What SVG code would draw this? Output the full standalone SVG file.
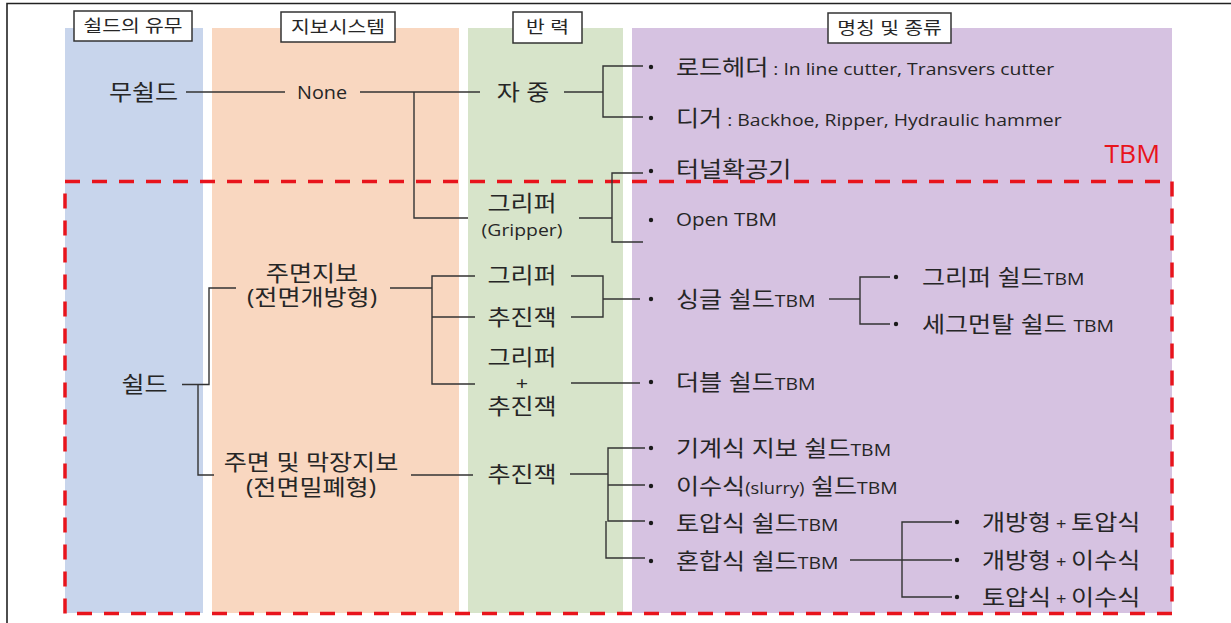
<svg xmlns="http://www.w3.org/2000/svg" width="1231" height="623" viewBox="0 0 1231 623">
<style>
text { font-family: "Open Sans", "Noto Sans CJK KR", sans-serif; fill: #262626; }
.h { font-size: 17px; text-anchor: middle; }
.k { font-size: 22px; }
.m { text-anchor: middle; }
.s17 { font-size: 17px; }
.s16 { font-size: 17px; }
.s15 { font-size: 15px; }
.box { fill: #ffffff; stroke: #333333; stroke-width: 1.5; }
.ln { fill: none; stroke: #333333; stroke-width: 1.4; }
.dot { fill: #1a1a1a; }
</style>
<rect x="0" y="0" width="1231" height="623" fill="#ffffff"/>
<path d="M7,623 V3.5 H1231" fill="none" stroke="#222222" stroke-width="1.6"/>

<g id="columns">
  <rect x="65" y="28" width="138" height="585" fill="#c8d5ec"/>
  <rect x="212" y="28" width="247" height="585" fill="#f9d7c0"/>
  <rect x="468" y="28" width="155" height="585" fill="#d7e4ca"/>
  <rect x="632" y="28" width="540" height="585" fill="#d6c2e1"/>
</g>

<g id="tbm-region">
  <rect x="65" y="181.5" width="1107" height="432" fill="none" stroke="#e8141c" stroke-width="3.5" stroke-dasharray="15 12"/>
  <text transform="translate(1160 163) scale(1.06 1)" text-anchor="end" style="font-size:25px;fill:#e8141c">TBM</text>
</g>

<g id="headers">
  <g id="h1"><rect class="box" x="74" y="11" width="118" height="30"/><text class="h" transform="translate(133 32) scale(1.2 1)">쉴드의 유무</text></g>
  <g id="h2"><rect class="box" x="281" y="12" width="114" height="30"/><text class="h" transform="translate(338 33) scale(1.2 1)">지보시스템</text></g>
  <g id="h3"><rect class="box" x="513" y="12" width="69" height="31"/><text class="h" transform="translate(547.5 33) scale(1.2 1)">반 력</text></g>
  <g id="h4"><rect class="box" x="828" y="13" width="123" height="30"/><text class="h" transform="translate(889.5 34) scale(1.2 1)">명칭 및 종류</text></g>
</g>

<g id="connectors">
  <path class="ln" d="M186,92 H285"/>
  <path class="ln" d="M360,92 H480"/>
  <path class="ln" d="M414,92 V218 H468"/>
  <path class="ln" d="M564,92 H603"/>
  <path class="ln" d="M643,66 H603 V117 H643"/>
  <path class="ln" d="M579,218 H612"/>
  <path class="ln" d="M643,173 H612 V242 H643"/>
  <path class="ln" d="M182,384.5 H209 V288 H236"/>
  <path class="ln" d="M198,384.5 V475 H214"/>
  <path class="ln" d="M390,288 H432"/>
  <path class="ln" d="M475,276 H432 V384 H475"/>
  <path class="ln" d="M432,317 H475"/>
  <path class="ln" d="M571,276 H603 V317 H571"/>
  <path class="ln" d="M603,299 H640"/>
  <path class="ln" d="M571,383 H640"/>
  <path class="ln" d="M829,299 H860"/>
  <path class="ln" d="M890,277 H860 V324 H890"/>
  <path class="ln" d="M411,475 H473"/>
  <path class="ln" d="M570,474 H608"/>
  <path class="ln" d="M645,448 H608 V521 H645"/>
  <path class="ln" d="M608,485 H645"/>
  <path class="ln" d="M606,521 V558 H645"/>
  <path class="ln" d="M850,560 H952"/>
  <path class="ln" d="M952,522 H902 V597 H952"/>
</g>

<g id="bullets">
  <circle class="dot" cx="651" cy="67" r="2.2"/>
  <circle class="dot" cx="651" cy="118" r="2.2"/>
  <circle class="dot" cx="651" cy="171" r="2.2"/>
  <circle class="dot" cx="651" cy="220" r="2.2"/>
  <circle class="dot" cx="651" cy="299" r="2.2"/>
  <circle class="dot" cx="896" cy="277" r="2.2"/>
  <circle class="dot" cx="896" cy="324" r="2.2"/>
  <circle class="dot" cx="651" cy="382" r="2.2"/>
  <circle class="dot" cx="651" cy="448" r="2.2"/>
  <circle class="dot" cx="651" cy="486" r="2.2"/>
  <circle class="dot" cx="651" cy="523" r="2.2"/>
  <circle class="dot" cx="651" cy="561" r="2.2"/>
  <circle class="dot" cx="957" cy="522" r="2.2"/>
  <circle class="dot" cx="957" cy="560" r="2.2"/>
  <circle class="dot" cx="957" cy="597" r="2.2"/>
</g>

<g id="n-mushield"><text class="k m" transform="translate(143.5 100) scale(1.14 1)">무쉴드</text></g>
<g id="n-none"><text class="m" transform="translate(322 99) scale(1.1 1)" style="font-size:18px">None</text></g>
<g id="n-jajung"><text class="k m" transform="translate(523 100) scale(1.14 1)">자 중</text></g>
<g id="n-roadheader"><text class="k" transform="translate(676 75) scale(1.14 1)">로드헤더<tspan class="s17"> : In line cutter, Transvers cutter</tspan></text></g>
<g id="n-digger"><text class="k" transform="translate(676 126) scale(1.14 1)">디거<tspan class="s17"> : Backhoe, Ripper, Hydraulic hammer</tspan></text></g>
<g id="n-tunnel"><text class="k" transform="translate(676 177) scale(1.14 1)">터널확공기</text></g>
<g id="n-gripper1"><text class="k m" transform="translate(522 211) scale(1.14 1)"><tspan x="0">그리퍼</tspan><tspan class="s17" x="0" dy="25">(Gripper)</tspan></text></g>
<g id="n-opentbm"><text transform="translate(676 226) scale(1.14 1)" style="font-size:18px">Open TBM</text></g>
<g id="n-jumyeon"><text class="k m" transform="translate(312 281) scale(1.14 1)"><tspan x="0">주면지보</tspan><tspan x="0" dy="24">(전면개방형)</tspan></text></g>
<g id="n-gripper2"><text class="k m" transform="translate(522 283) scale(1.14 1)">그리퍼</text></g>
<g id="n-jack1"><text class="k m" transform="translate(522 325) scale(1.14 1)">추진잭</text></g>
<g id="n-single"><text class="k" transform="translate(676 307) scale(1.14 1)">싱글 쉴드<tspan class="s16">TBM</tspan></text></g>
<g id="n-grippershield"><text class="k" transform="translate(922 285) scale(1.14 1)">그리퍼 쉴드<tspan class="s16">TBM</tspan></text></g>
<g id="n-segmental"><text class="k" transform="translate(922 332) scale(1.14 1)">세그먼탈 쉴드 <tspan class="s16">TBM</tspan></text></g>
<g id="n-shield"><text class="k m" transform="translate(144.5 392) scale(1.14 1)">쉴드</text></g>
<g id="n-gripperjack"><text class="k m" transform="translate(522 365) scale(1.14 1)"><tspan x="0">그리퍼</tspan><tspan x="0" dy="25" style="font-size:19px">+</tspan><tspan x="0" dy="24">추진잭</tspan></text></g>
<g id="n-double"><text class="k" transform="translate(676 390) scale(1.14 1)">더블 쉴드<tspan class="s16">TBM</tspan></text></g>
<g id="n-jumyeonmak"><text class="k m" transform="translate(311 470) scale(1.14 1)"><tspan x="0">주면 및 막장지보</tspan><tspan x="0" dy="25">(전면밀폐형)</tspan></text></g>
<g id="n-jack2"><text class="k m" transform="translate(522 482) scale(1.14 1)">추진잭</text></g>
<g id="n-mech"><text class="k" transform="translate(676 456) scale(1.14 1)">기계식 지보 쉴드<tspan class="s16">TBM</tspan></text></g>
<g id="n-slurry"><text class="k" transform="translate(676 494) scale(1.14 1)">이수식<tspan style="font-size:16px">(slurry)</tspan> 쉴드<tspan class="s16">TBM</tspan></text></g>
<g id="n-epb"><text class="k" transform="translate(676 531) scale(1.14 1)">토압식 쉴드<tspan class="s16">TBM</tspan></text></g>
<g id="n-mixed"><text class="k" transform="translate(676 569) scale(1.14 1)">혼합식 쉴드<tspan class="s16">TBM</tspan></text></g>
<g id="n-m1"><text class="k" transform="translate(982 530) scale(1.14 1)">개방형<tspan style="font-size:16px"> + </tspan>토압식</text></g>
<g id="n-m2"><text class="k" transform="translate(982 568) scale(1.14 1)">개방형<tspan style="font-size:16px"> + </tspan>이수식</text></g>
<g id="n-m3"><text class="k" transform="translate(982 605) scale(1.14 1)">토압식<tspan style="font-size:16px"> + </tspan>이수식</text></g>
</svg>
